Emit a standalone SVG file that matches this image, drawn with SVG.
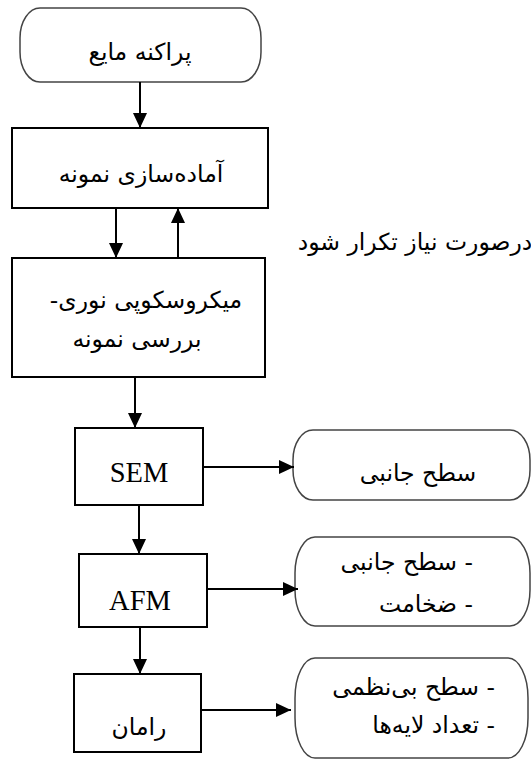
<svg xmlns="http://www.w3.org/2000/svg" width="531" height="760" viewBox="0 0 531 760">
<defs>
<marker id="ah" markerUnits="userSpaceOnUse" markerWidth="16" markerHeight="14" refX="15" refY="7" orient="auto">
<path d="M0,0 L15,7 L0,14 Z" fill="#000"/>
</marker>
<style>
.box{fill:#fff;stroke:#000;stroke-width:2}
.term{fill:#fff;stroke:#444;stroke-width:1.5}
.fa{font-family:"DejaVu Sans","Noto Sans",sans-serif;font-size:23.5px;fill:#000;direction:rtl;unicode-bidi:embed}
.en{font-family:"Liberation Serif",serif;font-size:28.5px;fill:#000}
.c line{stroke:#000;stroke-width:2;marker-end:url(#ah)}
</style>
</defs>
<rect width="531" height="760" fill="#fff"/>
<g id="n1"><rect class="term" x="20" y="8" width="241" height="74" rx="20" ry="30"/><text class="fa" x="140" y="60" text-anchor="middle">پراکنه مایع</text></g>
<g id="n2"><rect class="box" x="12" y="128" width="256" height="80"/><text class="fa" x="141" y="182" text-anchor="middle">آماده‌سازی نمونه</text></g>
<g id="n3"><rect class="box" x="12" y="258" width="253" height="119"/><text class="fa" x="146" y="308" text-anchor="middle">میکروسکوپی نوری-</text><text class="fa" x="137" y="347" text-anchor="middle">بررسی نمونه</text></g>
<g id="lbl"><text class="fa" x="415" y="250" text-anchor="middle">درصورت نیاز تکرار شود</text></g>
<g id="n4"><rect class="box" x="75" y="428" width="128" height="77"/><text class="en" x="139" y="482" text-anchor="middle">SEM</text></g>
<g id="n5"><rect class="term" x="293" y="430" width="237" height="70" rx="20" ry="30"/><text class="fa" x="418" y="481" text-anchor="middle">سطح جانبی</text></g>
<g id="n6"><rect class="box" x="79" y="554" width="128" height="73"/><text class="en" x="140" y="610" text-anchor="middle">AFM</text></g>
<g id="n7"><rect class="term" x="295" y="537" width="235" height="89" rx="20" ry="36"/><text class="fa" x="473" y="570" text-anchor="start">- سطح جانبی</text><text class="fa" x="473" y="612" text-anchor="start">- ضخامت</text></g>
<g id="n8"><rect class="box" x="74" y="674" width="127" height="78"/><text class="fa" x="139" y="735" text-anchor="middle">رامان</text></g>
<g id="n9"><rect class="term" x="295" y="658" width="233" height="100" rx="20" ry="40"/><text class="fa" x="495" y="695" text-anchor="start">- سطح بی‌نظمی</text><text class="fa" x="495" y="733" text-anchor="start">- تعداد لایه‌ها</text></g>
<g id="connectors" class="c">
<line x1="140" y1="82" x2="140" y2="128"/>
<line x1="116" y1="208" x2="116" y2="258"/>
<line x1="178" y1="258" x2="178" y2="208"/>
<line x1="135" y1="377" x2="135" y2="428"/>
<line x1="203" y1="467" x2="294" y2="467"/>
<line x1="139" y1="505" x2="139" y2="554"/>
<line x1="207" y1="589" x2="298" y2="589"/>
<line x1="140" y1="627" x2="140" y2="674"/>
<line x1="201" y1="710" x2="291" y2="710"/>
</g>
</svg>
